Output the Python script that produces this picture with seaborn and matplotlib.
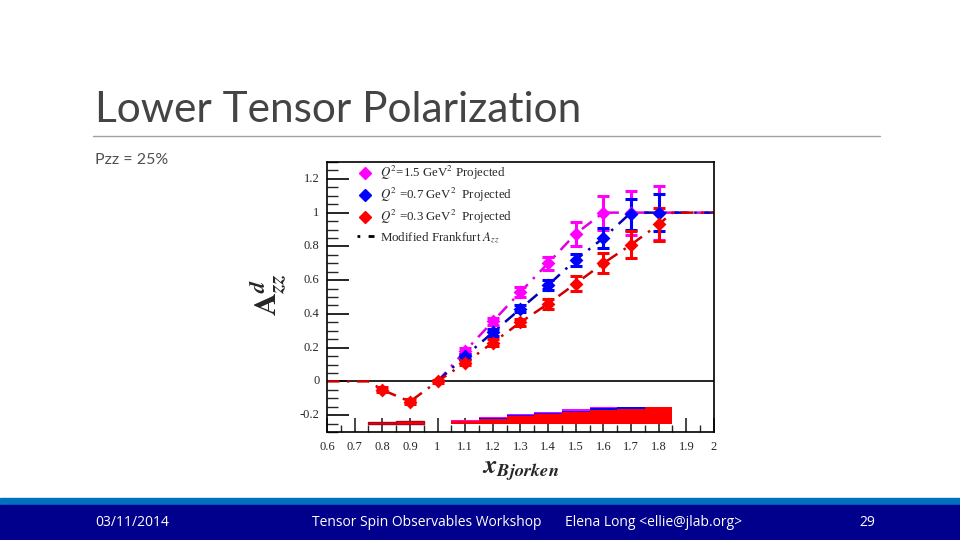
import pandas as pd
import matplotlib
matplotlib.use("Agg")
import matplotlib.pyplot as plt
from matplotlib.lines import Line2D
from matplotlib.patches import Rectangle
from matplotlib.ticker import MultipleLocator
import seaborn as sns

# projected points (x_Bjorken, A_zz, stat. error)
x_hi = [1.1, 1.2, 1.3, 1.4, 1.5, 1.6, 1.7, 1.8]
y_q15 = [0.18, 0.355, 0.53, 0.70, 0.875, 1.0, 1.0, 1.0]
e_q15 = [0.02, 0.02, 0.03, 0.04, 0.07, 0.10, 0.13, 0.16]
y_q07 = [0.15, 0.29, 0.43, 0.57, 0.72, 0.85, 0.99, 1.0]
e_q07 = [0.015, 0.02, 0.02, 0.03, 0.035, 0.06, 0.09, 0.11]
x_lo = [0.8, 0.9, 1.0, 1.1, 1.2, 1.3, 1.4, 1.5, 1.6, 1.7, 1.8]
y_q03 = [-0.05, -0.12, 0.0, 0.11, 0.23, 0.35, 0.46, 0.58, 0.70, 0.81, 0.93]
e_q03 = [0.015, 0.015, 0.01, 0.015, 0.02, 0.02, 0.03, 0.045, 0.06, 0.08, 0.10]

# modified Frankfurt model curves
mx_q03 = [0.6, 0.75, 0.8, 0.9, 1.0, 1.1, 1.2, 1.3, 1.4, 1.5, 1.6, 1.7, 1.8, 1.85, 2.0]
my_q03 = [0.0, 0.0, -0.05, -0.12, 0.0, 0.11, 0.23, 0.35, 0.46, 0.58, 0.70, 0.81, 0.93, 1.0, 1.0]
mx_q07 = [1.0, 1.1, 1.2, 1.3, 1.4, 1.5, 1.6, 1.7, 2.0]
my_q07 = [0.0, 0.15, 0.29, 0.43, 0.57, 0.72, 0.85, 1.0, 1.0]
mx_q15 = [1.0, 1.1, 1.2, 1.3, 1.4, 1.5, 1.6, 2.0]
my_q15 = [0.0, 0.18, 0.355, 0.53, 0.70, 0.875, 1.0, 1.0]

# systematic bands drawn from a baseline
sys_base = -0.25
sys_x_hi = [1.1, 1.2, 1.3, 1.4, 1.5, 1.6, 1.7, 1.8]
sys_q15 = [0.02, 0.04, 0.056, 0.071, 0.085, 0.099, 0.099, 0.099]
sys_q07 = [0.018, 0.034, 0.05, 0.063, 0.077, 0.09, 0.099, 0.099]
sys_q03 = [0.016, 0.026, 0.042, 0.055, 0.066, 0.079, 0.085, 0.099]
sys_x_lo = [0.8, 0.9]
sys_q03_lo = [0.01, 0.014]

labels = [r"$Q^2$=1.5 GeV$^2$ Projected", r"$Q^2$ =0.7 GeV$^2$  Projected",
          r"$Q^2$ =0.3 GeV$^2$  Projected", r"Modified Frankfurt $A_{zz}$"]
x_ticks = [0.6, 0.7, 0.8, 0.9, 1, 1.1, 1.2, 1.3, 1.4, 1.5, 1.6, 1.7, 1.8, 1.9, 2]
y_ticks = [-0.2, 0, 0.2, 0.4, 0.6, 0.8, 1, 1.2]

sns.set_theme(style="white")
plt.rcParams["font.family"] = ["Liberation Serif", "DejaVu Serif"]
plt.rcParams["mathtext.fontset"] = "stix"

col_m, col_b, col_r = "#ff00ff", "#0000ff", "#ff0000"
line_m, line_b, line_r = "#e000e0", "#0000b0", "#d00000"
dash = (0, (5, 3, 1, 3))

fig = plt.figure(figsize=(9.6, 5.4), dpi=100)
ax = fig.add_axes([0.3406, 0.2, 0.4031, 0.5])

# systematic bands
ax.bar(sys_x_hi, sys_q15, width=0.1, bottom=sys_base, color=col_m, linewidth=0)
ax.bar(sys_x_hi, sys_q07, width=0.1, bottom=sys_base, color=col_b, linewidth=0)
ax.bar(sys_x_hi, sys_q03, width=0.1, bottom=sys_base, color=col_r, linewidth=0)
ax.bar(sys_x_lo, sys_q03_lo, width=0.1, bottom=sys_base, color=col_r,
       edgecolor="#b00020", linewidth=1.0)

ax.axhline(0, color="black", lw=1.2, zorder=1)

# model curves
for mx, my, c in [(mx_q15, my_q15, line_m), (mx_q07, my_q07, line_b), (mx_q03, my_q03, line_r)]:
    sns.lineplot(x=mx, y=my, ax=ax, color=c, lw=1.8, linestyle=dash, zorder=2)

# points with error bars
for xs, ys, es, c in [(x_hi, y_q15, e_q15, col_m), (x_hi, y_q07, e_q07, col_b), (x_lo, y_q03, e_q03, col_r)]:
    ax.errorbar(xs, ys, yerr=es, fmt="none", ecolor=c, elinewidth=2.2, capsize=4,
                capthick=2.2, zorder=3)
    sns.scatterplot(x=xs, y=ys, ax=ax, marker="D", s=50, color=c, edgecolor=c,
                    linewidth=0, zorder=4)

ax.set_xlim(0.6, 2.0)
ax.set_ylim(-0.3, 1.3)
ax.xaxis.set_major_locator(MultipleLocator(0.1))
ax.xaxis.set_minor_locator(MultipleLocator(0.05))
ax.yaxis.set_major_locator(MultipleLocator(0.2))
ax.yaxis.set_minor_locator(MultipleLocator(0.05))
ax.set_xticklabels([])
ax.set_yticklabels([])
ax.tick_params(axis="x", which="major", direction="in", length=10, width=1.2, bottom=True)
ax.tick_params(axis="x", which="minor", direction="in", length=5, width=1.0, bottom=True)
ax.tick_params(axis="y", which="major", direction="in", length=16, width=1.4, left=True)
ax.tick_params(axis="y", which="minor", direction="in", length=8, width=1.0, left=True)
for sp in ax.spines.values():
    sp.set_color("black")
    sp.set_linewidth(1.2)

for v in x_ticks:
    ax.text(v, -0.355, f"{v:g}", ha="center", va="top", fontsize=9)
for v in y_ticks:
    ax.text(0.573, v, f"{v:g}", ha="right", va="center", fontsize=9)

ax.text(0.5, -0.148, r"$\mathbfit{x}_{\mathbfit{Bjorken}}$", transform=ax.transAxes,
        ha="center", va="center", fontsize=19)
ax.text(-0.152, 0.51, r"$\mathbf{A}_{\mathbfit{zz}}^{\mathbfit{d}}$", transform=ax.transAxes,
        ha="center", va="center", rotation=90, fontsize=23)

handles = [Line2D([], [], marker="D", color=col_m, ls="none", ms=6),
           Line2D([], [], marker="D", color=col_b, ls="none", ms=6),
           Line2D([], [], marker="D", color=col_r, ls="none", ms=6),
           Line2D([], [], color="black", lw=2, linestyle=(0, (1, 3, 5, 10)))]
ax.legend(handles, labels, loc="upper left", bbox_to_anchor=(0.047, 1.035), frameon=False,
          fontsize=9.3, handlelength=1.3, handletextpad=0.5, labelspacing=0.3)

# slide decoration
fig.text(0.099, 1 - 122 / 540, "Lower Tensor Polarization", fontsize=30.5, color="#444444",
         family=["Lato", "DejaVu Sans"], va="baseline")
fig.add_artist(Line2D([93 / 960, 880 / 960], [1 - 136 / 540, 1 - 136 / 540],
                      color="#a0a0a0", lw=1.0))
fig.text(0.099, 1 - 160 / 540, "Pzz = 25%", fontsize=11.5, color="#505050",
         family=["Lato", "DejaVu Sans"], va="center")

fig.add_artist(Rectangle((0, 1 - 505 / 540), 1, 7 / 540, color="#0070c0",
                         transform=fig.transFigure))
fig.add_artist(Rectangle((0, 0), 1, 35 / 540, color="#00008c",
                         transform=fig.transFigure))
footer = [(132, "03/11/2014"), (427, "Tensor Spin Observables Workshop"),
          (654, "Elena Long <ellie@jlab.org>"), (867, "29")]
for px, t in footer:
    fig.text(px / 960, 1 - 523 / 540, t, color="white", fontsize=10, ha="center",
             va="center", family=["Open Sans", "DejaVu Sans"])

fig.savefig("out.png", dpi=100)
